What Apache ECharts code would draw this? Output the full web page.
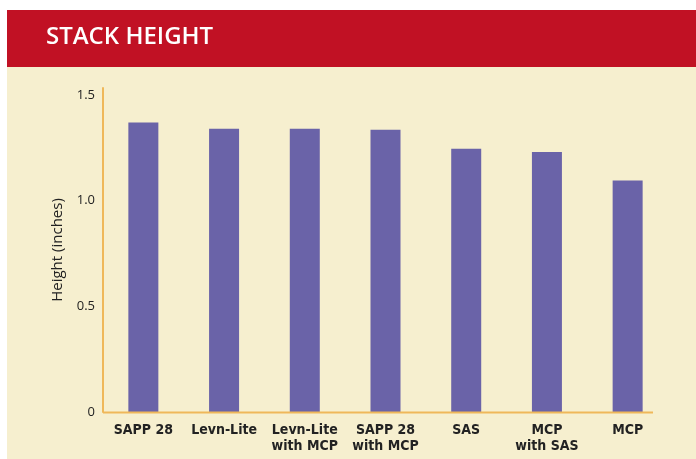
<!DOCTYPE html>
<html>
<head>
<meta charset="utf-8">
<script src="https://cdn.jsdelivr.net/npm/echarts@6/dist/echarts.min.js"></script>
<style>
  html, body { margin: 0; padding: 0; background: #ffffff; }
  #chart { width: 696px; height: 459px; }
</style>
</head>
<body>
<div id="chart"></div>
<script>
const categories = ['SAPP 28', 'Levn-Lite', 'Levn-Lite\nwith MCP', 'SAPP 28\nwith MCP', 'SAS', 'MCP\nwith SAS', 'MCP'];
const heights = [1.37, 1.34, 1.34, 1.335, 1.245, 1.23, 1.095];
const yTicks = [0, 0.5, 1.0, 1.5];

const C = {
  red: '#c11124',
  cream: '#f6efcf',
  bar: '#6a63a8',
  axis: '#efb85a',
  text: '#222222'
};

const chart = echarts.init(document.getElementById('chart'));

chart.setOption({
  animation: false,
  graphic: [
    { type: 'rect', z: -10, shape: { x: 7, y: 10, width: 689, height: 57 }, style: { fill: C.red } },
    { type: 'rect', z: -10, shape: { x: 7, y: 67, width: 689, height: 392 }, style: { fill: C.cream } },
    { type: 'line', z: 10, shape: { x1: 103, y1: 412.5, x2: 653, y2: 412.5 }, style: { stroke: C.axis, lineWidth: 2 } }
  ],
  title: {
    text: 'STACK HEIGHT',
    left: 41,
    top: 20,
    textStyle: { color: '#ffffff', fontFamily: 'Open Sans', fontWeight: 600, fontSize: 24 }
  },
  grid: { left: 103, right: 28, top: 88, bottom: 47 },
  xAxis: {
    type: 'category',
    data: categories,
    axisLine: { show: false },
    axisTick: { show: false },
    axisLabel: {
      color: C.text,
      fontFamily: "'DejaVu Sans Condensed', Roboto, sans-serif",
      fontWeight: 'bold',
      fontSize: 14,
      lineHeight: 16,
      margin: 10,
      interval: 0
    }
  },
  yAxis: {
    type: 'value',
    min: 0,
    max: 1.533,
    interval: 0.5,
    name: 'Height (inches)',
    nameLocation: 'middle',
    nameGap: 38,
    nameTextStyle: { color: C.text, fontFamily: 'Open Sans', fontSize: 15 },
    axisLine: { show: true, lineStyle: { color: C.axis, width: 2 } },
    axisTick: { show: false },
    splitLine: { show: false },
    axisLabel: {
      color: C.text,
      fontFamily: 'Open Sans',
      fontSize: 13,
      margin: 8,
      showMaxLabel: false,
      formatter: v => yTicks.indexOf(v) < 0 ? '' : (v === 0 ? '0' : v.toFixed(1))
    }
  },
  series: [{
    type: 'bar',
    data: heights,
    barWidth: 30,
    itemStyle: { color: C.bar }
  }]
});

window.addEventListener('resize', () => chart.resize());
</script>
</body>
</html>
